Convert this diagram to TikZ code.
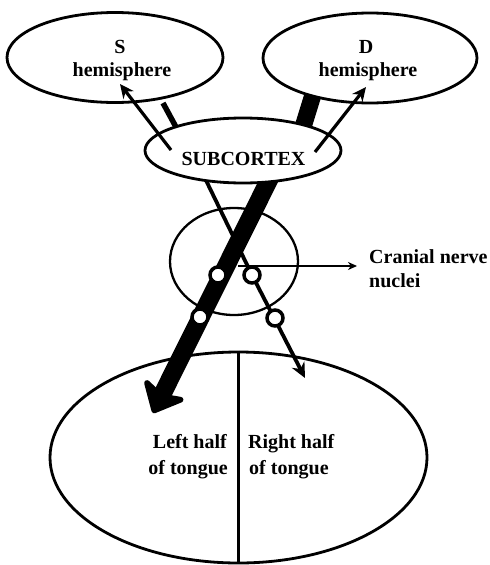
\documentclass[tikz,border=0pt]{standalone}
\usepackage{fontspec}
\setmainfont{Liberation Serif}
\usetikzlibrary{arrows.meta,shapes.geometric}
\begin{document}
\begin{tikzpicture}[x=1pt,y=-1pt,
  lbl/.style={font=\fontsize{20}{23}\selectfont\bfseries, inner sep=0pt},
  oval/.style={ellipse, draw, line width=2.8pt, fill=white, inner sep=0pt},
  nucleus/.style={circle, draw, line width=3.5pt, fill=white, inner sep=0pt, minimum size=16pt},
  thinarrow/.style={line width=3.2pt, -{Stealth[length=14pt,width=13pt]}},
]
\useasboundingbox[fill=white] (0,0) rectangle (490,565);

% brain stem and tongue
\node[ellipse, draw, line width=2.3pt, inner sep=0pt, minimum width=128pt, minimum height=107pt] (stem) at (234,261.5) {};
\node[ellipse, draw, line width=2.8pt, inner sep=0pt, minimum width=377pt, minimum height=211pt] (tongue) at (238.5,457.5) {};
\draw[line width=2.8pt] (tongue.north) -- (tongue.south);

% coordinates
\coordinate (dtop) at (316,85);
\coordinate (dbot) at (299,140);
\coordinate (stop) at (163,103);
\coordinate (sbot) at (183,140);
\coordinate (sin) at (200,168);
\coordinate (shaftstart) at (274,170);
\coordinate (shafttip) at (153,413);
\coordinate (nl) at (218,275);
\coordinate (nr) at (252,275);
\coordinate (ll) at (200,317);
\coordinate (lr) at (275,318);
\coordinate (rtip) at (305,378);
\coordinate (cnstart) at (238,266);
\coordinate (cntip) at (357,266);

% pathways hidden behind cortex/subcortex
\draw[line width=17pt] (dtop) -- (dbot);
\draw[line width=5.5pt] (stop) -- (sbot);
\draw[line width=3.8pt] (sin) -- (nr);
\draw[line width=18pt, -{Stealth[length=31pt,width=54pt,inset=8pt,round]}] (shaftstart) -- (shafttip);
\draw[line width=3.8pt, -{Stealth[length=15pt,width=14pt]}] (nr) -- (rtip);
\draw[line width=2pt, -{Stealth[length=9pt,width=8pt]}] (cnstart) -- (cntip);

% cortex and subcortex
\node[oval, minimum width=216pt, minimum height=90pt] (sh) at (115,57.5) {};
\node[oval, minimum width=214pt, minimum height=90pt] (dh) at (370,58) {};
\node[oval, minimum width=196pt, minimum height=65pt] (sub) at (243,150.5) {};

% nuclei
\node[nucleus] (nucl) at (nl) {};
\node[nucleus] (nucr) at (nr) {};
\node[nucleus] (nucll) at (ll) {};
\node[nucleus] (nuclr) at (lr) {};

% arrows to hemispheres
\coordinate (sa0) at (171,150);
\coordinate (sa1) at (120,84);
\coordinate (da0) at (315,152);
\coordinate (da1) at (366,87);
\draw[thinarrow] (sa0) -- (sa1);
\draw[thinarrow] (da0) -- (da1);

% labels
\node[lbl, anchor=base] (s1) at (120,53) {S};
\node[lbl, anchor=base] (s2) at (122,76) {hemisphere};
\node[lbl, anchor=base] (d1) at (366,53) {D};
\node[lbl, anchor=base] (d2) at (368,76) {hemisphere};
\node[lbl, anchor=base] (sc) at (243.5,165) {SUBCORTEX};
\node[lbl, anchor=base west] (cn1) at (369,263) {Cranial nerve};
\node[lbl, anchor=base west] (cn2) at (369,287) {nuclei};
\node[lbl, anchor=base east] (l1) at (227,448) {Left half};
\node[lbl, anchor=base east] (l2) at (228,474) {of tongue};
\node[lbl, anchor=base west] (r1) at (248,448) {Right half};
\node[lbl, anchor=base west] (r2) at (249,474) {of tongue};
\end{tikzpicture}
\end{document}
